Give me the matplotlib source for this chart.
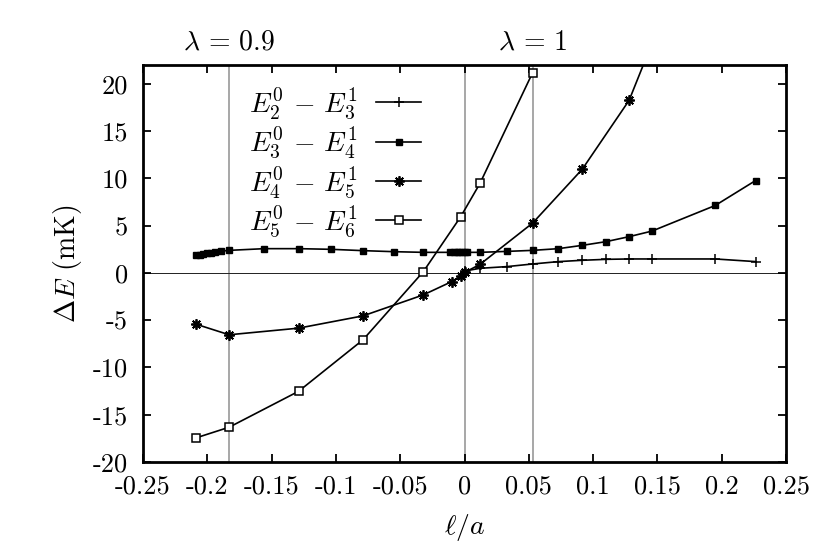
import matplotlib
matplotlib.use('Agg')
import matplotlib.pyplot as plt
import matplotlib.transforms as mtransforms

plt.rcParams['font.family'] = 'cmr10'
plt.rcParams['mathtext.fontset'] = 'cm'
plt.rcParams['axes.unicode_minus'] = False

# E2^0 - E3^1  (plus)
x23 = [0.0, 0.012, 0.0328, 0.053, 0.073, 0.0916, 0.110, 0.128, 0.1458, 0.195, 0.2264]
y23 = [0.2, 0.49, 0.67, 0.95, 1.2, 1.34, 1.44, 1.48, 1.48, 1.48, 1.2]

# E3^0 - E4^1  (filled square)
x34 = [-0.2088, -0.2060, -0.2030, -0.2000, -0.1970, -0.1940, -0.1894, -0.183,
       -0.1557, -0.129, -0.1036, -0.0789, -0.0548, -0.032,
       -0.011, -0.008, -0.006, -0.004, -0.002, 0.0, 0.002,
       0.012, 0.0328, 0.053, 0.073, 0.0916, 0.110, 0.128, 0.1458, 0.195, 0.2264]
y34 = [1.85, 1.92, 1.99, 2.06, 2.12, 2.18, 2.30, 2.39,
       2.57, 2.57, 2.50, 2.36, 2.25, 2.18,
       2.18, 2.18, 2.18, 2.18, 2.18, 2.18, 2.18,
       2.18, 2.28, 2.39, 2.57, 2.92, 3.31, 3.84, 4.43, 7.14, 9.78]

# E4^0 - E5^1  (asterisk)
x45 = [-0.2088, -0.183, -0.129, -0.0789, -0.032, -0.010, -0.003, 0.0, 0.012,
       0.053, 0.0916, 0.128, 0.1458]
y45 = [-5.42, -6.54, -5.84, -4.54, -2.32, -0.92, -0.35, 0.05, 0.9,
       5.28, 10.98, 18.26, 24.3]

# E5^0 - E6^1  (open square)
x56 = [-0.2088, -0.183, -0.129, -0.0789, -0.032, -0.003, 0.012, 0.053]
y56 = [-17.45, -16.32, -12.52, -7.07, 0.14, 5.94, 9.47, 21.2]

lam_x = [-0.183, 0.0, 0.053]
lam_labels = [(-0.183, r'$\lambda\,=\,0.9$'), (0.053, r'$\lambda\,=\,1$')]

xticks = [-0.25, -0.2, -0.15, -0.1, -0.05, 0, 0.05, 0.1, 0.15, 0.2, 0.25]
xtick_labels = ['-0.25', '-0.2', '-0.15', '-0.1', '-0.05', '0', '0.05', '0.1', '0.15', '0.2', '0.25']
yticks = [-20, -15, -10, -5, 0, 5, 10, 15, 20]
ytick_labels = ['-20', '-15', '-10', '-5', '0', '5', '10', '15', '20']

fig = plt.figure(figsize=(8.3, 5.58), dpi=100)
ax = fig.add_subplot(111)
fig.subplots_adjust(left=143/830, right=786/830, top=1-65/558, bottom=1-462/558)

for xv in lam_x:
    ax.axvline(xv, color='#a0a0a0', lw=1.3, zorder=1)
ax.axhline(0, color='#202020', lw=0.7, zorder=1)

ax.plot(x23, y23, 'k-', lw=1.2, marker='+', ms=7, mew=1.1, label=r'$E_2^0\,-\,E_3^1$')
ax.plot(x34, y34, 'k-', lw=1.2, marker='s', ms=5, label=r'$E_3^0\,-\,E_4^1$')
ax.plot(x45, y45, 'k-', lw=1.2, marker=(8, 2, 0), ms=7.5, mew=1.3, label=r'$E_4^0\,-\,E_5^1$')
ax.plot(x56, y56, 'k-', lw=1.2, marker='s', ms=5.5, mfc='white', mew=1.1, label=r'$E_5^0\,-\,E_6^1$')

ax.set_xlim(-0.25, 0.25)
ax.set_ylim(-20, 22)
ax.set_xticks(xticks, xtick_labels)
ax.set_yticks(yticks, ytick_labels)
ax.tick_params(direction='in', length=6, width=1.3, top=True, right=True,
               labelsize=19)
ax.tick_params(axis='x', pad=9)
ax.tick_params(axis='y', pad=11)
for sp in ax.spines.values():
    sp.set_linewidth(2)

ax.set_xlabel(r'$\ell/a$', fontsize=20, labelpad=10)
ax.set_ylabel(r'$\Delta E$ (mK)', fontsize=20, labelpad=6)

trans = mtransforms.blended_transform_factory(ax.transData, ax.transAxes)
for xv, txt in lam_labels:
    ax.text(xv, 1.058, txt, transform=trans, ha='center', va='center', fontsize=20)

ax.legend(loc='upper left', bbox_to_anchor=(0.165, 0.948), frameon=False,
          markerfirst=False, fontsize=20, handlelength=1.65, labelspacing=0.14,
          handletextpad=0.65, borderaxespad=0, borderpad=0)

fig.savefig('out.png', dpi=100)
